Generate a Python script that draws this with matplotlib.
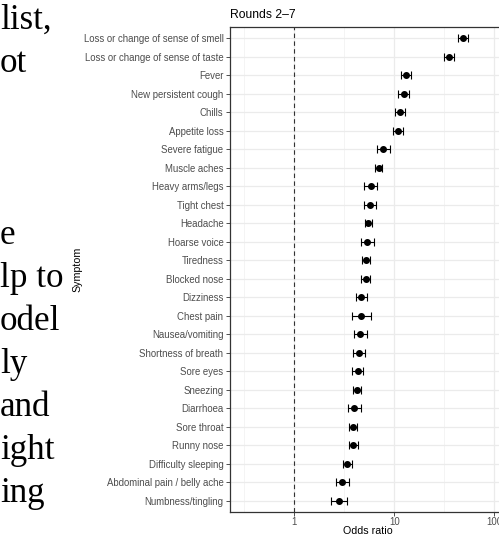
import matplotlib
matplotlib.use("Agg")
import matplotlib.pyplot as plt
import matplotlib.ticker as ticker
import numpy as np

# symptoms, top to bottom
symptoms = [
    "Loss or change of sense of smell", "Loss or change of sense of taste",
    "Fever", "New persistent cough", "Chills", "Appetite loss",
    "Severe fatigue", "Muscle aches", "Heavy arms/legs", "Tight chest",
    "Headache", "Hoarse voice", "Tiredness", "Blocked nose", "Dizziness",
    "Chest pain", "Nausea/vomiting", "Shortness of breath", "Sore eyes",
    "Sneezing", "Diarrhoea", "Sore throat", "Runny nose",
    "Difficulty sleeping", "Abdominal pain / belly ache", "Numbness/tingling",
]
odds = [48.3, 35.5, 13.0, 12.4, 11.3, 10.9, 7.76, 6.98, 5.80, 5.75,
        5.50, 5.37, 5.21, 5.17, 4.65, 4.65, 4.57, 4.43, 4.30, 4.27,
        3.98, 3.87, 3.87, 3.39, 3.02, 2.78]
ci_low = [43.7, 31.2, 11.6, 11.0, 10.2, 9.7, 6.66, 6.37, 5.00, 4.94,
          5.09, 4.65, 4.79, 4.68, 4.11, 3.75, 3.95, 3.89, 3.80, 3.89,
          3.47, 3.55, 3.52, 3.05, 2.63, 2.33]
ci_high = [54.2, 39.8, 14.8, 14.0, 12.7, 12.3, 9.12, 7.59, 6.71, 6.61,
           5.94, 6.22, 5.67, 5.71, 5.33, 5.80, 5.37, 5.09, 4.90, 4.68,
           4.68, 4.27, 4.30, 3.78, 3.50, 3.37]
x_ticks = [1, 10, 100]
x_minor = [10 ** -0.5, 10 ** 0.5, 10 ** 1.5]

# words from the body text running beside the figure
side_text = ["list,", "ot", "", "", "", "e", "lp to", "odel", "ly", "and", "ight", "ing"]

W, H = 499, 539
fig = plt.figure(figsize=(W / 100, H / 100), dpi=100)

for k, word in enumerate(side_text):
    if word:
        fig.text(0.0, 1 - (29 + 43.0 * k) / H, word, family="Liberation Serif",
                 fontsize=25.2, color="black", va="baseline", ha="left")

# panel sticks out past the right edge of the page
ax_left, ax_right, ax_top, ax_bot = 230, 507.3, 27, 512
ax = fig.add_axes([ax_left / W, 1 - ax_bot / H, (ax_right - ax_left) / W, (ax_bot - ax_top) / H])

n = len(symptoms)
ypos = np.arange(n)[::-1]
odds = np.array(odds)
err = [odds - np.array(ci_low), np.array(ci_high) - odds]

ax.axvline(1, color="#333333", linestyle=(0, (4, 3)), linewidth=0.8, zorder=2)
ax.errorbar(odds, ypos, xerr=err, fmt="o", color="black", markersize=4.0,
            elinewidth=0.8, capsize=2.8, capthick=0.8, zorder=3)

ax.set_xscale("log")
ax.set_xlim(10 ** -0.643, 10 ** 2.13)
ax.set_ylim(-0.6, n - 0.4)

ax.xaxis.set_major_locator(ticker.FixedLocator(x_ticks))
ax.xaxis.set_major_formatter(ticker.FixedFormatter([str(t) for t in x_ticks]))
ax.xaxis.set_minor_locator(ticker.FixedLocator(x_minor))
ax.xaxis.set_minor_formatter(ticker.NullFormatter())
ax.set_yticks(ypos)
ax.set_yticklabels(symptoms)

ax.grid(True, which="major", color="#EBEBEB", linewidth=0.9)
ax.grid(True, which="minor", axis="x", color="#F2F2F2", linewidth=0.6)
ax.set_axisbelow(True)

for sp in ax.spines.values():
    sp.set_color("#333333")
    sp.set_linewidth(0.9)

ax.tick_params(axis="both", which="major", length=2.75, width=0.6, color="#333333",
               labelsize=6.9, labelcolor="#4D4D4D", pad=2)
ax.tick_params(axis="x", which="major", pad=0.5)
ax.tick_params(axis="x", which="minor", length=0)
for lab in ax.get_xticklabels() + ax.get_yticklabels():
    lab.set_family("Liberation Sans")

fig.text(ax_left / W, 1 - 18.5 / H, "Rounds 2–7", family="Liberation Sans",
         fontsize=8.7, color="black", ha="left", va="baseline")
fig.text(367.5 / W, 1 - 534 / H, "Odds ratio", family="Liberation Sans",
         fontsize=7.7, color="black", ha="center", va="baseline")
fig.text(77 / W, 1 - 269 / H, "Symptom", family="Liberation Sans",
         fontsize=7.7, color="black", rotation=90, ha="center", va="center")

fig.savefig("out.png", dpi=100, facecolor="white")
